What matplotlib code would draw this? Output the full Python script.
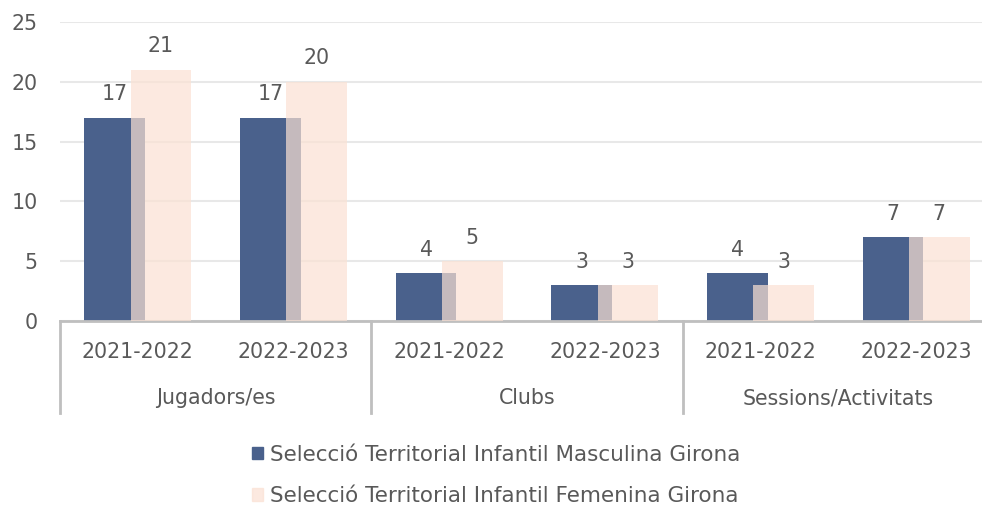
import matplotlib.pyplot as plt
from matplotlib.patches import Patch
import numpy as np

# dades
categories = ['Jugadors/es', 'Clubs', 'Sessions/Activitats']
seasons = ['2021-2022', '2022-2023']
masculina = [17, 17, 4, 3, 4, 7]
femenina = [21, 20, 5, 3, 3, 7]
labels_series = ['Selecció Territorial Infantil Masculina Girona',
                 'Selecció Territorial Infantil Femenina Girona']

blue = '#4a618c'
peach = '#fbe1d3'
txt = '#595959'
plt.rcParams['font.family'] = ['DejaVu Sans']

W, H = 982, 509
fig = plt.figure(figsize=(W / 100, H / 100), dpi=100)
ax = fig.add_axes([60 / W, (H - 321) / H, 934 / W, 299 / H])

x = np.arange(len(masculina))
bw = 0.39
off = 0.148
b1 = ax.bar(x - off, masculina, bw, color=blue, zorder=2)
b2 = ax.bar(x + off, femenina, bw, color=peach, alpha=0.7, zorder=3)

# etiquetes de valors
for bars in (b1, b2):
    for r in bars:
        ax.annotate(f'{r.get_height():.0f}', (r.get_x() + r.get_width() / 2, r.get_height()),
                    xytext=(0, 12.5), textcoords='offset points', ha='center', va='baseline',
                    fontsize=14.8, color=txt)

ax.set_xlim(-0.5, 5.5)
ax.set_ylim(0, 25)
ax.set_yticks(range(0, 26, 5))
ax.tick_params(axis='y', length=0, labelsize=14.8, labelcolor=txt, pad=16)
ax.set_xticks([])
ax.grid(axis='y', color='#e8e8e8', linewidth=1.5, zorder=0)
for s in ['top', 'right', 'left']:
    ax.spines[s].set_visible(False)
ax.spines['bottom'].set_color('#bfbfbf')
ax.spines['bottom'].set_linewidth(2)

# eix de categories en dos nivells
tr = ax.get_xaxis_transform()
for i in x:
    ax.text(i, -0.104, seasons[i % 2], transform=tr, ha='center', va='center',
            fontsize=14.8, color=txt)
for j, c in enumerate(categories):
    ax.text(2 * j + 0.5, -0.258, c, transform=tr, ha='center', va='center',
            fontsize=14.8, color=txt)
for xd in [-0.5, 1.5, 3.5, 5.5]:
    ax.plot([xd, xd], [0, -0.308], transform=tr, color='#bfbfbf', linewidth=2,
            clip_on=False)

handles = [Patch(color=blue), Patch(color=peach, alpha=0.7)]
fig.legend(handles, labels_series, loc='upper left', bbox_to_anchor=(243 / W, 1 - 436 / H),
           frameon=False, fontsize=15.5, labelcolor=txt, handlelength=0.55,
           handleheight=0.55, handletextpad=0.3, labelspacing=1.0, borderaxespad=0)

fig.savefig('out.png', dpi=100)
